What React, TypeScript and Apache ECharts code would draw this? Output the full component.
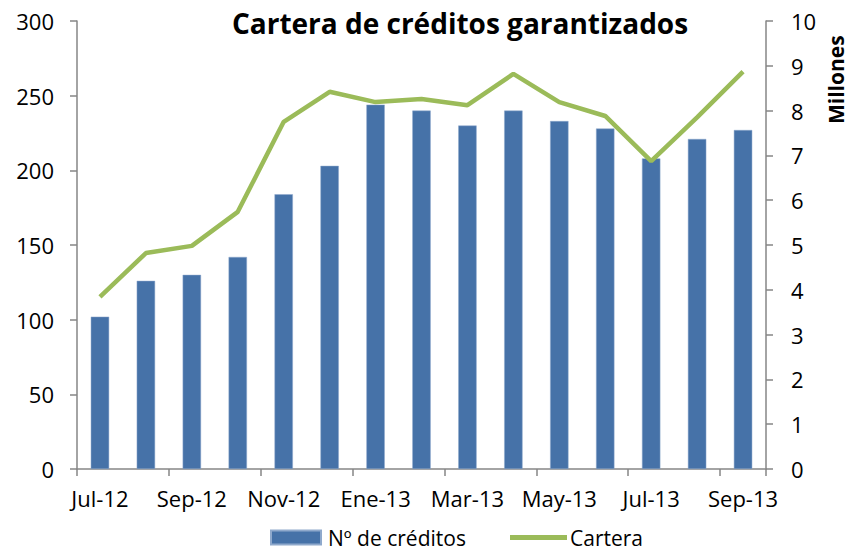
import React, { useEffect, useRef } from "react";
import * as echarts from "echarts";

const categories = ["Jul-12", "Ago-12", "Sep-12", "Oct-12", "Nov-12", "Dic-12", "Ene-13", "Feb-13", "Mar-13", "Abr-13", "May-13", "Jun-13", "Jul-13", "Ago-13", "Sep-13"];
const creditos = [102, 126, 130, 142, 184, 203, 244, 240, 230, 240, 233, 228, 208, 221, 227];
const cartera = [3.84, 4.82, 4.98, 5.74, 7.75, 8.42, 8.19, 8.26, 8.12, 8.82, 8.19, 7.88, 6.87, 7.85, 8.87];
const leftTicks = { min: 0, max: 300, interval: 50 };
const rightTicks = { min: 0, max: 10, interval: 1 };

const FONT = "Open Sans";
const AXIS_COLOR = "#868686";
const LABEL_SIZE = 22;

export default function App() {
  const ref = useRef<HTMLDivElement>(null);
  useEffect(() => {
    if (!ref.current) return;
    const chart = echarts.init(ref.current, null, { renderer: "svg" });
    chart.setOption({
      animation: false,
      backgroundColor: "#ffffff",
      title: {
        text: "Cartera de créditos garantizados",
        left: 455,
        top: 4,
        textAlign: "center",
        textStyle: { fontFamily: FONT, fontSize: 28, fontWeight: "bold", color: "#000" },
      },
      graphic: [
        {
          type: "text",
          x: 825,
          y: 124,
          rotation: Math.PI / 2,
          style: { text: "Millones", font: `bold 21px "${FONT}"`, fill: "#000" },
        },
      ],
      legend: [
        {
          data: ["Nº de créditos"],
          left: 270,
          top: 527,
          padding: 0,
          itemWidth: 50,
          itemHeight: 14,
          icon: "rect",
          textStyle: { fontFamily: FONT, fontSize: 21, color: "#000", padding: [0, 0, 0, 2] },
        },
        {
          data: ["Cartera"],
          left: 510,
          top: 527,
          padding: 0,
          itemWidth: 57,
          itemHeight: 5,
          icon: "rect",
          textStyle: { fontFamily: FONT, fontSize: 21, color: "#000", padding: [0, 0, 0, -2] },
        },
      ],
      grid: { left: 77, right: 88, top: 21, bottom: 81, containLabel: false },
      xAxis: {
        type: "category",
        data: categories,
        boundaryGap: true,
        axisLine: { lineStyle: { color: AXIS_COLOR, width: 1.5 } },
        axisTick: { show: true, interval: 1, length: 7, lineStyle: { color: AXIS_COLOR, width: 1.5 } },
        axisLabel: { interval: 1, fontFamily: FONT, fontSize: LABEL_SIZE, color: "#000", margin: 18 },
      },
      yAxis: [
        {
          type: "value",
          ...leftTicks,
          axisLine: { show: true, lineStyle: { color: AXIS_COLOR, width: 1.5 } },
          axisTick: { show: true, length: 7, lineStyle: { color: AXIS_COLOR, width: 1.5 } },
          splitLine: { show: false },
          axisLabel: { fontFamily: FONT, fontSize: LABEL_SIZE, color: "#000", margin: 23 },
        },
        {
          type: "value",
          position: "right",
          ...rightTicks,
          axisLine: { show: true, lineStyle: { color: AXIS_COLOR, width: 1.5 } },
          axisTick: { show: true, length: 7, lineStyle: { color: AXIS_COLOR, width: 1.5 } },
          splitLine: { show: false },
          axisLabel: { fontFamily: FONT, fontSize: LABEL_SIZE, color: "#000", margin: 25 },
        },
      ],
      series: [
        {
          name: "Nº de créditos",
          type: "bar",
          data: creditos,
          barWidth: "40%",
          itemStyle: { color: "#4672A8", borderColor: "#8FA9CC", borderWidth: 0.5 },
        },
        {
          name: "Cartera",
          type: "line",
          yAxisIndex: 1,
          data: cartera,
          symbol: "none",
          lineStyle: { color: "#9BBB59", width: 4.5 },
          itemStyle: { color: "#9BBB59" },
        },
      ],
    });
    return () => chart.dispose();
  }, []);
  return <div ref={ref} style={{ width: 854, height: 550, position: "absolute", left: 0, top: 0 }} />;
}
